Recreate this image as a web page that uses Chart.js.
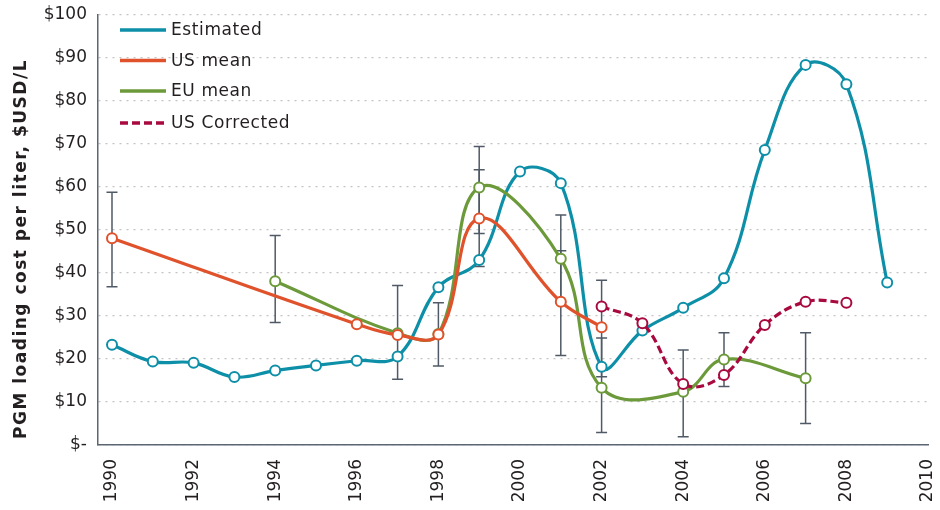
<!DOCTYPE html>
<html>
<head>
<meta charset="utf-8">
<script src="https://cdn.jsdelivr.net/npm/chart.js@4.4.1/dist/chart.umd.min.js"></script>
<style>
  html, body { margin: 0; padding: 0; background: #fff; }
</style>
</head>
<body>
<canvas id="chartCanvas" width="940" height="510"></canvas>
<script>
// PGM loading cost per liter – estimated vs measured means

const estYears = [1990, 1991, 1992, 1993, 1994, 1995, 1996, 1997, 1998, 1999, 2000, 2001, 2002, 2003, 2004, 2005, 2006, 2007, 2008, 2009];
const estimated = [23.3, 19.4, 19.1, 15.8, 17.3, 18.5, 19.6, 20.6, 36.7, 43.0, 63.6, 60.9, 18.2, 26.6, 31.9, 38.8, 68.6, 88.4, 83.9, 37.8];

const usYears = [1990, 1996, 1997, 1998, 1999, 2001, 2002];
const usMean = [48.1, 28.1, 25.6, 25.7, 52.7, 33.3, 27.4];

const euYears = [1994, 1997, 1998, 1999, 2001, 2002, 2004, 2005, 2007];
const euMean = [38.1, 26.0, 25.8, 59.9, 43.3, 13.3, 12.4, 19.9, 15.5];

const corrYears = [2002, 2003, 2004, 2005, 2006, 2007, 2008];
const usCorrected = [32.2, 28.3, 14.2, 16.3, 27.9, 33.3, 33.1];

// error bars: low / high ends
const errYears = [1990, 1994, 1997, 1998, 1999, 1999, 2001, 2001, 2002, 2002, 2004, 2005, 2007];
const errLow = [36.8, 28.5, 15.3, 18.4, 41.5, 49.2, 20.8, 33.1, 15.9, 2.9, 1.9, 13.6, 5.0];
const errHigh = [58.8, 48.7, 37.1, 33.1, 64.0, 69.4, 45.2, 53.5, 38.3, 24.9, 22.1, 26.1, 26.1];

const xTicks = [1990, 1992, 1994, 1996, 1998, 2000, 2002, 2004, 2006, 2008, 2010];
const yTicks = [0, 10, 20, 30, 40, 50, 60, 70, 80, 90, 100];

const seriesNames = ['Estimated', 'US mean', 'EU mean', 'US Corrected'];
const seriesColors = ['#0e8fa8', '#e0522b', '#6c9a3a', '#a8093f'];

const FONT = '"DejaVu Sans", sans-serif';
const TEXT = '#231f20';
const AXIS = '#5b6670';

const toPoints = (xs, ys) => xs.map((x, i) => ({ x, y: ys[i] }));

function lineSet(i, xs, ys, order, dash) {
    return {
        label: seriesNames[i], data: toPoints(xs, ys),
        borderColor: seriesColors[i], backgroundColor: '#fff',
        borderWidth: 3.2, borderDash: dash || [], tension: 0.4, fill: false,
        pointRadius: 5, pointBorderWidth: 2, pointBackgroundColor: '#fff', pointBorderColor: seriesColors[i],
        order
    };
}

const errorBars = {
    id: 'errorBars',
    beforeDatasetsDraw(chart) {
        const { ctx, scales: { x, y } } = chart;
        ctx.save();
        ctx.strokeStyle = '#4f5a66';
        ctx.lineWidth = 1.5;
        errYears.forEach((yr, i) => {
            const px = x.getPixelForValue(yr);
            const lo = y.getPixelForValue(errLow[i]);
            const hi = y.getPixelForValue(errHigh[i]);
            ctx.beginPath();
            ctx.moveTo(px, hi); ctx.lineTo(px, lo);
            ctx.moveTo(px - 5.5, hi); ctx.lineTo(px + 5.5, hi);
            ctx.moveTo(px - 5.5, lo); ctx.lineTo(px + 5.5, lo);
            ctx.stroke();
        });
        ctx.restore();
    }
};

const legendAndTitle = {
    id: 'legendAndTitle',
    afterDraw(chart) {
        const ctx = chart.ctx;
        const rows = [30, 60.5, 91, 123];
        ctx.save();
        ctx.font = '17px ' + FONT;
        ctx.letterSpacing = '0.6px';
        ctx.textBaseline = 'middle';
        seriesNames.forEach((name, i) => {
            ctx.strokeStyle = seriesColors[i];
            ctx.lineWidth = 3.5;
            ctx.setLineDash(i === 3 ? [8, 4] : []);
            ctx.beginPath(); ctx.moveTo(120, rows[i]); ctx.lineTo(166, rows[i]); ctx.stroke();
            ctx.fillStyle = TEXT;
            ctx.fillText(name, 171, rows[i] + 1);
        });
        ctx.setLineDash([]);
        // y axis title
        ctx.translate(22, 249);
        ctx.rotate(-Math.PI / 2);
        ctx.textAlign = 'center';
        ctx.font = 'bold 17px ' + FONT;
        ctx.letterSpacing = '1.5px';
        ctx.fillText('PGM loading cost per liter, $USD/L', 0, 0);
        ctx.restore();
    }
};

const ctx = document.getElementById('chartCanvas').getContext('2d');
new Chart(ctx, {
    type: 'line',
    data: {
        datasets: [
            lineSet(0, estYears, estimated, 4),
            lineSet(1, usYears, usMean, 2),
            lineSet(2, euYears, euMean, 3),
            lineSet(3, corrYears, usCorrected, 1, [8, 4])
        ]
    },
    options: {
        responsive: false, animation: false, events: [],
        layout: { autoPadding: false, padding: { top: 15, right: 12, left: 0, bottom: 0 } },
        plugins: { legend: { display: false }, tooltip: { enabled: false } },
        scales: {
            x: {
                type: 'linear', min: 1989.657, max: 2010,
                afterBuildTicks: s => { s.ticks = xTicks.map(v => ({ value: v })); },
                afterFit: s => { s.height = 65; s.paddingLeft = 0; s.paddingRight = 0; },
                grid: { display: false, drawTicks: false },
                border: { color: AXIS, width: 1.5 },
                ticks: { minRotation: 90, maxRotation: 90, padding: 14, color: TEXT, font: { family: FONT, size: 17 }, callback: v => String(v) }
            },
            y: {
                min: 0, max: 100,
                afterBuildTicks: s => { s.ticks = yTicks.map(v => ({ value: v })); },
                afterFit: s => { s.width = 98; s.paddingTop = 0; s.paddingBottom = 0; },
                grid: { color: '#c4c4c4', lineWidth: 1.3, drawTicks: false },
                border: { color: AXIS, width: 1.5, dash: [2, 5] },
                ticks: { padding: 11, color: TEXT, font: { family: FONT, size: 17 }, callback: v => v === 0 ? '$-' : '$' + v }
            }
        }
    },
    plugins: [errorBars, legendAndTitle]
});
</script>
</body>
</html>
